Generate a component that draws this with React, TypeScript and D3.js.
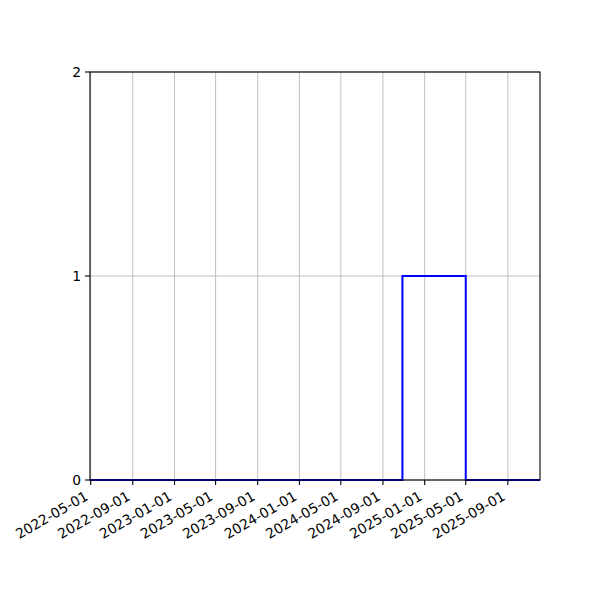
import React, {useEffect, useRef} from 'react';
import * as d3 from "d3"

// step series
const dates = ["2022-04-29", "2024-10-28", "2025-05-01", "2025-12-04"]
const values = [0, 1, 0, 0]
const xTicks = ["2022-05-01","2022-09-01","2023-01-01","2023-05-01","2023-09-01","2024-01-01",
  "2024-05-01","2024-09-01","2025-01-01","2025-05-01","2025-09-01"]
const yTicks = [0, 1, 2]

const App = () => {
  const ref = useRef<SVGSVGElement>(null)

  useEffect(() => {
    const width = 600
    const height = 600
    const margin = {top: 72, right: 60, bottom: 120, left: 90}
    const parse = d3.utcParse("%Y-%m-%d")
    const data = dates.map((d, i) => ({date: parse(d) as Date, value: values[i]}))

    const svg = d3.select(ref.current)
    svg.selectAll("*").remove()

    const x = d3.scaleUtc()
      .domain([data[0].date, data[data.length - 1].date])
      .range([margin.left, width - margin.right])
    const y = d3.scaleLinear()
      .domain([0, 2])
      .range([height - margin.bottom, margin.top])

    // grid
    svg.append("g")
      .attr("stroke", "#b0b0b0")
      .attr("stroke-width", 0.8)
      .selectAll("line.v")
      .data(xTicks)
      .join("line")
      .attr("x1", d => x(parse(d) as Date))
      .attr("x2", d => x(parse(d) as Date))
      .attr("y1", margin.top)
      .attr("y2", height - margin.bottom)
    svg.append("g")
      .attr("stroke", "#b0b0b0")
      .attr("stroke-width", 0.8)
      .selectAll("line")
      .data(yTicks)
      .join("line")
      .attr("x1", margin.left)
      .attr("x2", width - margin.right)
      .attr("y1", d => y(d))
      .attr("y2", d => y(d))

    // the step line
    const line = d3.line<{date: Date, value: number}>()
      .x(d => x(d.date))
      .y(d => y(d.value))
      .curve(d3.curveStepAfter)
    svg.append("path")
      .datum(data)
      .attr("fill", "none")
      .attr("stroke", "#0000ff")
      .attr("stroke-width", 2)
      .attr("d", line)

    // spines
    svg.append("rect")
      .attr("x", margin.left)
      .attr("y", margin.top)
      .attr("width", width - margin.left - margin.right)
      .attr("height", height - margin.top - margin.bottom)
      .attr("fill", "none")
      .attr("stroke", "#000")
      .attr("stroke-width", 1.1)

    const font = "DejaVu Sans"
    // x ticks + rotated labels
    const xg = svg.append("g")
    xTicks.forEach(t => {
      const tx = x(parse(t) as Date)
      xg.append("line")
        .attr("x1", tx).attr("x2", tx)
        .attr("y1", height - margin.bottom).attr("y2", height - margin.bottom + 5)
        .attr("stroke", "#000").attr("stroke-width", 1.1)
      const ax = tx - 1.6
      const ay = height - margin.bottom + 19
      xg.append("text")
        .attr("x", ax).attr("y", ay)
        .attr("transform", `rotate(-30,${ax},${ay})`)
        .attr("text-anchor", "end")
        .attr("font-family", font)
        .attr("font-size", 13.9)
        .attr("fill", "#000")
        .text(t)
    })

    // y ticks
    const yg = svg.append("g")
    yTicks.forEach(t => {
      yg.append("line")
        .attr("x1", margin.left - 5).attr("x2", margin.left)
        .attr("y1", y(t)).attr("y2", y(t))
        .attr("stroke", "#000").attr("stroke-width", 1.1)
      yg.append("text")
        .attr("x", margin.left - 9)
        .attr("y", y(t))
        .attr("dy", "0.36em")
        .attr("text-anchor", "end")
        .attr("font-family", font)
        .attr("font-size", 13.9)
        .attr("fill", "#000")
        .text(t)
    })
  }, [])

  return (
    <svg ref={ref} width={600} height={600}
      style={{position: "absolute", left: 0, top: 0, background: "#fff"}} />
  )
}
export default App;
